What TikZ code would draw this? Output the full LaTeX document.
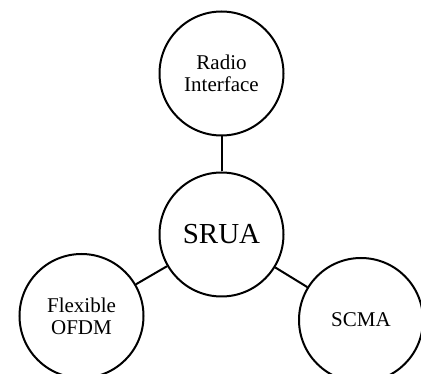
\documentclass[tikz,border=0pt]{standalone}
\usepackage{fontspec}
\setmainfont{Liberation Serif}
\begin{document}
\begin{tikzpicture}[x=1pt,y=-1pt,
  bubble/.style={circle,draw,line width=2pt,minimum size=124pt,inner sep=0pt,align=center,font=\fontsize{21}{22}\selectfont},
  link/.style={line width=2pt}]
\clip (0,0) rectangle (421,374);
\useasboundingbox (0,0) rectangle (421,374);
\node[bubble] (top) at (221.5,73.5) {Radio\\Interface};
\node[bubble,font=\fontsize{29}{30}\selectfont] (mid) at (221.5,234.5) {SRUA};
\node[bubble] (left) at (81.5,316) {Flexible\\OFDM};
\node[bubble] (right) at (361,320) {SCMA};
\draw[link] (top) -- (mid);
\draw[link] (mid) -- (left);
\draw[link] (mid) -- (right);
\end{tikzpicture}
\end{document}
